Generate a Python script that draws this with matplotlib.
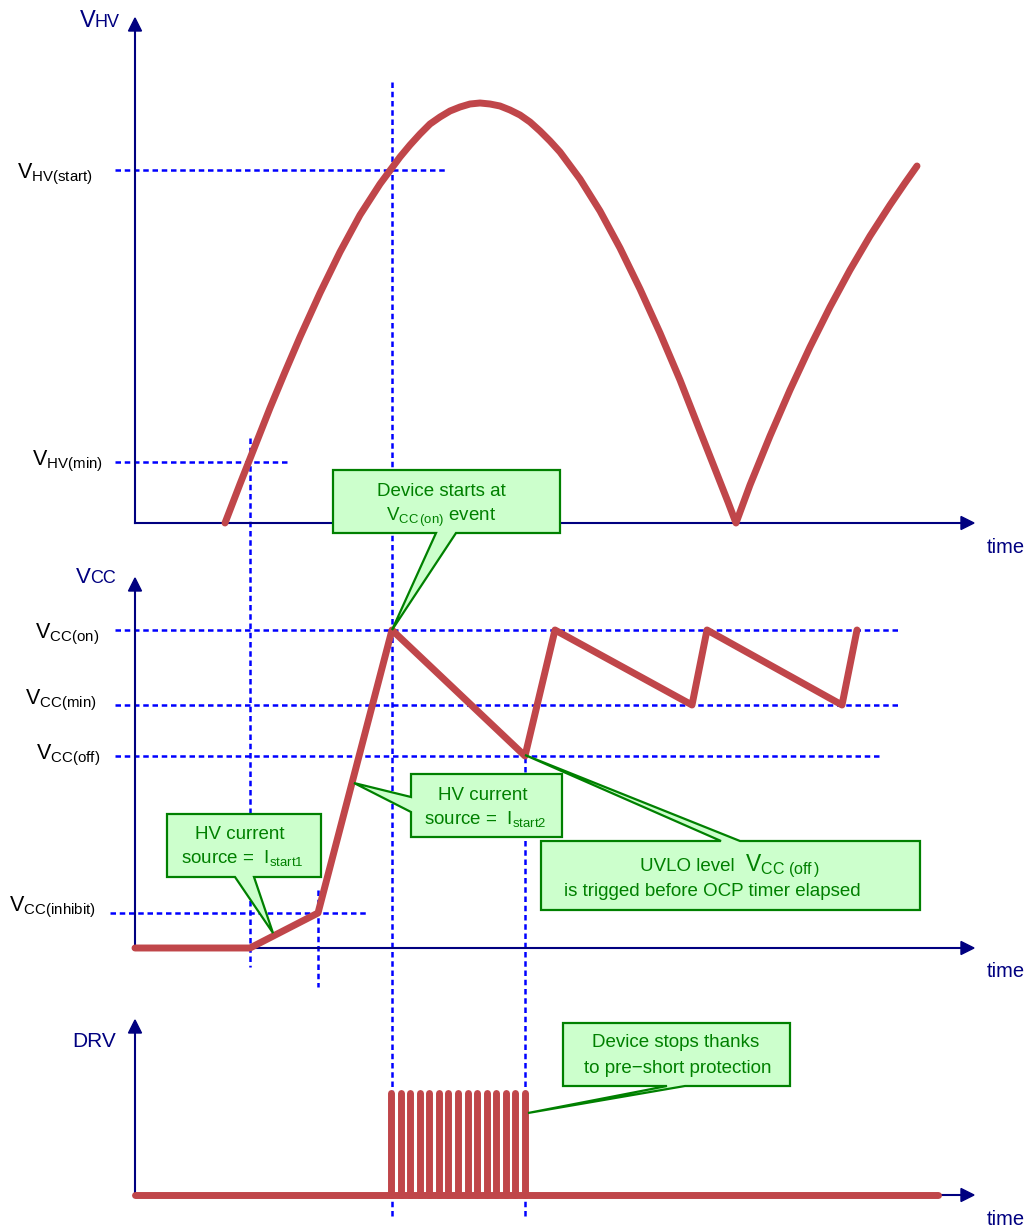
import numpy as np
import matplotlib
matplotlib.use("Agg")
import matplotlib.pyplot as plt
from matplotlib.patches import Polygon

plt.rcParams['font.family'] = ['Liberation Sans', 'DejaVu Sans']
plt.rcParams['mathtext.fontset'] = 'custom'
plt.rcParams['mathtext.rm'] = 'Liberation Sans'
plt.rcParams['mathtext.it'] = 'Liberation Sans:italic'

#----------------
# data: time along x, levels = height above the panel's time axis
hv_time = [225, 240, 255, 270, 285, 300, 320, 340, 360, 380, 400, 410, 420,
           430, 440, 450, 460, 470, 480, 490, 500, 510, 520, 530, 540, 550,
           560, 580, 600, 620, 640, 660, 680, 700, 715, 728, 736,
           750, 770, 790, 810, 830, 850, 870, 890, 905, 917]
hv_level = [0, 39, 77, 115, 151, 186, 230, 271, 308, 339, 366, 378, 389,
            399, 406, 412, 416, 419, 420, 419, 417, 413, 408, 401, 392, 382,
            371, 344, 312, 275, 234, 190, 143, 92, 54, 21, 0,
            38, 87, 133, 176, 216, 253, 287, 318, 340, 357]
hv_start, hv_min = 353, 61

vcc_time = [135, 250, 318, 392, 525, 555, 692, 707, 842, 857]
vcc_level = [0, 0, 35, 318, 192, 318, 243, 318, 243, 318]
vcc_on, vcc_min, vcc_off, vcc_inhibit = 318, 243, 192, 35

drv_pulse_time = [391, 401, 410, 420, 429, 439, 448, 458, 468, 477,
                  487, 496, 506, 515, 525]
drv_high = 106
drv_span = [135, 938]

# layout (pixels)
BASE_HV, BASE_VCC, BASE_DRV = 523, 948, 1195
X0 = 135
RED = '#C0464A'
NAVY = '#000080'
BLUE = '#0000FF'
GREEN = '#008000'
FILL = '#CCFFCC'
DASH = (0, (2.2, 1.5))


def dline(ax, xs, ys):
    ax.plot(xs, ys, color=BLUE, lw=1.8, ls=DASH, zorder=1)


def axes_arrows(ax, base, top, xend=974):
    ax.plot([X0, X0], [base, top + 10], color=NAVY, lw=1.5, zorder=2)
    ax.add_patch(Polygon([(X0, top), (X0 - 6.5, top + 13), (X0 + 6.5, top + 13)],
                         closed=True, color=NAVY, zorder=2))
    ax.plot([X0, xend - 10], [base, base], color=NAVY, lw=1.5, zorder=2)
    ax.add_patch(Polygon([(xend, base), (xend - 13, base - 6.5), (xend - 13, base + 6.5)],
                         closed=True, color=NAVY, zorder=2))


def callout(ax, verts):
    ax.add_patch(Polygon(verts, closed=True, facecolor=FILL, edgecolor=GREEN,
                         lw=1.6, joinstyle='miter', zorder=4))


def vlabel(ax, x, y, main, sub, fs=15.5):
    ax.text(x, y, r'$\mathregular{%s_{%s}}$' % (main, sub), fontsize=fs,
            ha='left', va='baseline', color='black', zorder=5)


fig = plt.figure(figsize=(10.33, 12.28), dpi=100)
ax = fig.add_axes([0, 0, 1, 1])
ax.set_xlim(0, 1033)
ax.set_ylim(1228, 0)
ax.axis('off')

#-------------- vertical event lines
dline(ax, [250, 250], [438, 967])
dline(ax, [318, 318], [890, 987])
dline(ax, [392, 392], [82, 1218])
dline(ax, [525, 525], [748, 1218])

#-------------- HV panel
dline(ax, [115, 448], [BASE_HV - hv_start] * 2)
dline(ax, [115, 288], [BASE_HV - hv_min] * 2)
axes_arrows(ax, BASE_HV, 18)
ax.plot(hv_time, BASE_HV - np.array(hv_level), color=RED, lw=5,
        solid_capstyle='round', solid_joinstyle='round', zorder=3)
ax.text(96, 27, 'V', fontsize=17, color=NAVY, ha='right', va='baseline')
ax.text(95, 27, 'HV', fontsize=13, color=NAVY, ha='left', va='baseline')
ax.text(987, 553, 'time', fontsize=14.5, color=NAVY, ha='left', va='baseline')
vlabel(ax, 17, 178, 'V', 'HV(start)')
vlabel(ax, 32, 465, 'V', 'HV(min)')

#-------------- VCC panel
dline(ax, [115, 898], [BASE_VCC - vcc_on] * 2)
dline(ax, [115, 898], [BASE_VCC - vcc_min] * 2)
dline(ax, [115, 880], [BASE_VCC - vcc_off] * 2)
dline(ax, [110, 368], [BASE_VCC - vcc_inhibit] * 2)
axes_arrows(ax, BASE_VCC, 578)
ax.plot(vcc_time, BASE_VCC - np.array(vcc_level), color=RED, lw=5,
        solid_capstyle='round', solid_joinstyle='round', zorder=3)
ax.text(91, 583, 'V', fontsize=16, color=NAVY, ha='right', va='baseline')
ax.text(90, 583, 'CC', fontsize=13, color=NAVY, ha='left', va='baseline')
ax.text(987, 977, 'time', fontsize=14.5, color=NAVY, ha='left', va='baseline')
vlabel(ax, 35, 638, 'V', 'CC(on)')
vlabel(ax, 25, 704, 'V', 'CC(min)')
vlabel(ax, 36, 759, 'V', 'CC(off)')
vlabel(ax, 9, 911, 'V', 'CC(inhibit)')

#-------------- DRV panel
axes_arrows(ax, BASE_DRV, 1020)
ax.plot(drv_span, [BASE_DRV] * 2, color=RED, lw=5, solid_capstyle='round', zorder=3)
for t in drv_pulse_time:
    ax.plot([t, t], [BASE_DRV, BASE_DRV - drv_high + 3.5], color=RED, lw=5,
            solid_capstyle='round', zorder=3)
ax.text(72, 1047, 'DRV', fontsize=15, color=NAVY, ha='left', va='baseline')
ax.text(987, 1225, 'time', fontsize=14.5, color=NAVY, ha='left', va='baseline')

#-------------- callouts
callout(ax, [(333, 470), (560, 470), (560, 533), (456, 533), (392, 630),
             (436, 533), (333, 533)])
ax.text(441, 496, 'Device starts at', fontsize=13.5, color=GREEN, ha='center',
        va='baseline', zorder=5)
ax.text(441, 521, r'$\mathregular{V_{CC\,(on)}}$ event', fontsize=13.5,
        color=GREEN, ha='center', va='baseline', zorder=5)

callout(ax, [(167, 814), (321, 814), (321, 877), (254, 877), (273, 933),
             (235, 877), (167, 877)])
ax.text(240, 839, 'HV current', fontsize=13.5, color=GREEN, ha='center',
        va='baseline', zorder=5)
ax.text(242, 863, r'source =  $\mathregular{I_{start1}}$', fontsize=13.5,
        color=GREEN, ha='center', va='baseline', zorder=5)

callout(ax, [(411, 774), (562, 774), (562, 837), (411, 837), (411, 812),
             (354, 783), (411, 797)])
ax.text(483, 800, 'HV current', fontsize=13.5, color=GREEN, ha='center',
        va='baseline', zorder=5)
ax.text(485, 824, r'source =  $\mathregular{I_{start2}}$', fontsize=13.5,
        color=GREEN, ha='center', va='baseline', zorder=5)

callout(ax, [(541, 841), (721, 841), (525, 755), (740, 841), (920, 841),
             (920, 910), (541, 910)])
ax.text(640, 871, 'UVLO level', fontsize=13.5, color=GREEN, ha='left',
        va='baseline', zorder=5)
ax.text(745, 871, r'$\mathregular{V_{CC\ (off\,)}}$', fontsize=16.5,
        color=GREEN, ha='left', va='baseline', zorder=5)
ax.text(564, 896, 'is trigged before OCP timer elapsed', fontsize=13.5,
        color=GREEN, ha='left', va='baseline', zorder=5)

callout(ax, [(563, 1023), (790, 1023), (790, 1086), (685, 1086), (528, 1113),
             (667, 1086), (563, 1086)])
ax.text(676, 1047, 'Device stops thanks', fontsize=13.5, color=GREEN,
        ha='center', va='baseline', zorder=5)
ax.text(678, 1073, 'to pre\u2212short protection', fontsize=13.5, color=GREEN,
        ha='center', va='baseline', zorder=5)

fig.savefig('out.png', dpi=100)
